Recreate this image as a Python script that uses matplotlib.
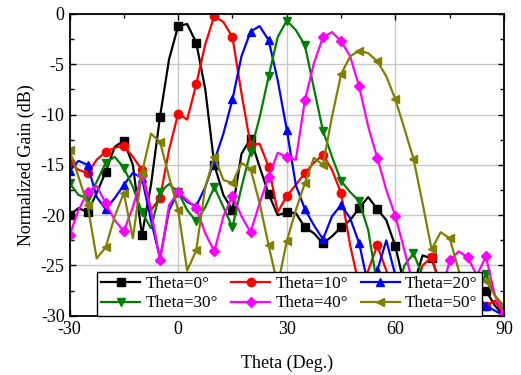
import matplotlib
matplotlib.use("Agg")
import matplotlib.pyplot as plt
import numpy as np
from matplotlib.ticker import MultipleLocator

plt.rcParams['font.family'] = ['Liberation Serif', 'DejaVu Serif']
plt.rcParams['axes.unicode_minus'] = False

theta = [-30, -27.5, -25, -22.5, -20, -17.5, -15, -12.5, -10, -7.5, -5, -2.5,
         0, 2.5, 5, 7.5, 10, 12.5, 15, 17.5, 20, 22.5, 25, 27.5,
         30, 32.5, 35, 37.5, 40, 42.5, 45, 47.5, 50, 52.5, 55, 57.5,
         60, 62.5, 65, 67.5, 70, 72.5, 75, 77.5, 80, 82.5, 85, 87.5, 90]

gain_0 = [-20.0, -19.3, -19.7, -17.8, -15.7, -13.2, -12.6, -15.0, -22.0, -17.0, -10.2, -4.5,
          -1.2, -1.0, -2.85, -7.5, -15.0, -18.0, -19.5, -13.9, -12.4, -15.2, -17.9, -20.0,
          -19.7, -19.8, -21.2, -21.8, -22.8, -22.1, -21.2, -20.5, -19.3, -18.2, -19.4, -20.5,
          -23.1, -27.0, -27.0, -24.0, -24.3, -27.0, -28.0, -28.0, -28.0, -28.0, -27.5, -29.0, -30.0]

gain_10 = [-14.7, -15.5, -15.8, -14.5, -13.7, -13.3, -13.1, -14.2, -15.5, -19.5, -18.3, -13.5,
           -9.9, -10.5, -7.0, -3.0, -0.2, -0.8, -2.3, -7.9, -13.0, -12.9, -15.2, -19.7,
           -18.1, -17.0, -15.8, -14.8, -14.0, -15.5, -17.8, -23.0, -27.0, -25.5, -23.0, -25.5,
           -28.0, -28.0, -28.0, -25.0, -24.2, -27.0, -28.0, -28.0, -28.0, -28.0, -29.0, -28.5, -30.0]

gain_20 = [-15.6, -14.6, -15.0, -18.2, -19.4, -18.3, -17.0, -15.8, -16.3, -20.5, -24.3, -19.5,
           -17.7, -18.7, -19.1, -17.2, -14.6, -11.9, -8.5, -4.2, -1.75, -1.2, -2.6, -6.6,
           -11.5, -17.0, -19.4, -21.0, -22.4, -20.1, -19.0, -20.3, -22.8, -27.0, -25.5, -22.5,
           -26.0, -28.0, -28.0, -28.0, -28.0, -28.0, -28.0, -28.0, -28.0, -28.0, -29.0, -29.5, -30.0]

gain_30 = [-16.8, -18.0, -18.3, -16.7, -14.8, -14.2, -15.3, -17.2, -19.7, -21.3, -17.7, -16.9,
           -17.7, -19.5, -20.6, -19.2, -17.2, -19.2, -21.2, -17.2, -13.7, -10.3, -6.2, -2.3,
           -0.65, -1.6, -3.1, -7.4, -11.6, -14.2, -16.6, -17.7, -18.6, -21.5, -27.0, -28.0,
           -28.0, -25.0, -23.8, -26.0, -28.0, -28.0, -28.0, -28.0, -28.0, -28.0, -25.8, -28.0, -29.5]

gain_40 = [-22.0, -19.5, -17.7, -17.1, -18.8, -20.5, -21.6, -19.2, -16.0, -19.5, -24.5, -19.0,
           -17.7, -18.5, -19.3, -21.8, -23.6, -20.1, -18.1, -20.1, -21.7, -18.8, -16.2, -13.8,
           -14.2, -14.5, -8.6, -4.9, -2.3, -1.8, -2.7, -4.2, -7.2, -11.2, -14.3, -17.5,
           -20.1, -23.5, -27.0, -28.0, -28.0, -28.0, -24.5, -23.6, -24.2, -26.0, -24.1, -28.0, -29.8]

gain_50 = [-13.5, -16.2, -19.0, -24.3, -23.2, -20.1, -17.8, -22.3, -15.8, -11.9, -12.7, -16.2,
           -19.5, -25.5, -23.5, -17.2, -14.2, -16.5, -16.8, -14.8, -15.4, -18.8, -23.0, -27.0,
           -22.6, -19.5, -16.8, -14.3, -15.0, -10.2, -6.0, -4.2, -3.65, -3.9, -4.7, -6.2,
           -8.5, -11.4, -14.4, -18.8, -23.4, -21.7, -22.3, -25.5, -28.0, -27.0, -26.5, -28.0, -29.0]

labels = ['Theta=0°', 'Theta=10°', 'Theta=20°', 'Theta=30°', 'Theta=40°', 'Theta=50°']
series = [gain_0, gain_10, gain_20, gain_30, gain_40, gain_50]
colors = ['#000000', '#FF0000', '#0000FF', '#008000', '#FF00FF', '#808000']
markers = ['s', 'o', '^', 'v', 'D', '<']
msizes = [5.5, 6, 6, 6, 5, 6]

fig = plt.figure(figsize=(5.21, 3.75), dpi=100)
ax = fig.add_axes([0.1334, 0.158, 0.8340, 0.8047])

handles = []
for y, lab, c, m, ms in zip(series, labels, colors, markers, msizes):
    h, = ax.plot(theta, y, color=c, marker=m, markersize=ms, markevery=2,
                 linewidth=1.6, label=lab)
    handles.append(h)

ax.set_xlim(-30, 90)
ax.set_ylim(-30, 0)
ax.xaxis.set_major_locator(MultipleLocator(30))
ax.xaxis.set_minor_locator(MultipleLocator(15))
ax.yaxis.set_major_locator(MultipleLocator(5))
ax.yaxis.set_minor_locator(MultipleLocator(2.5))
ax.tick_params(which='both', direction='in', top=True, right=True,
               labelsize=13, width=1.0)
ax.tick_params(which='major', length=4.5)
ax.tick_params(which='minor', length=3)
ax.grid(True, which='major', color='#c8c8c8', linewidth=1.0)
ax.set_axisbelow(True)
for s in ax.spines.values():
    s.set_linewidth(1.3)

ax.set_xlabel('Theta (Deg.)', fontsize=13, labelpad=12)
ax.set_ylabel('Normalized Gain (dB)', fontsize=13, labelpad=4)

order = [0, 3, 1, 4, 2, 5]
leg = ax.legend([handles[i] for i in order], [labels[i] for i in order],
                ncol=3, loc='lower left', bbox_to_anchor=(0.063, 0.0),
                fontsize=12.3, frameon=True, fancybox=False, framealpha=1,
                edgecolor='black', borderaxespad=0, handlelength=2.3,
                handletextpad=0.3, columnspacing=0.75, labelspacing=0.2,
                borderpad=0.25)
leg.get_frame().set_linewidth(1.0)

fig.savefig('out.png', dpi=100)
